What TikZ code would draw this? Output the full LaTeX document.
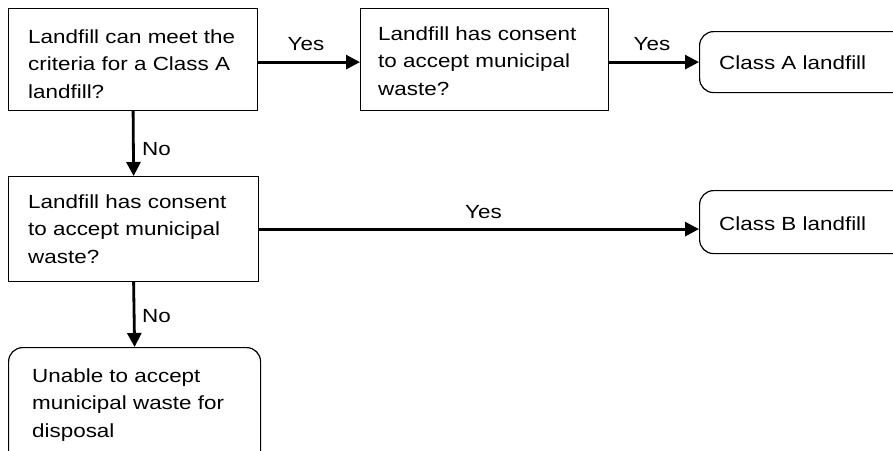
\documentclass[tikz,border=0pt]{standalone}
\usepackage{fontspec}
\setmainfont[FakeStretch=1.18]{Liberation Sans}
\usetikzlibrary{arrows.meta,calc}
\begin{document}
\begin{tikzpicture}[x=1pt,y=-1pt,
  box/.style={draw=black,line width=1.2pt,fill=white,inner sep=0pt,anchor=north west},
  rbox/.style={box,rounded corners=14pt},
  txt/.style={inner sep=0pt,align=left,font=\fontsize{19}{27.5}\selectfont},
  lbl/.style={inner sep=0pt,font=\fontsize{19}{27.5}\selectfont},
  conn/.style={line width=2.8pt,-{Triangle[length=14pt,width=14pt]}}]
\useasboundingbox (0,0) rectangle (893,450);
\clip (0,0) rectangle (893,450);
% boxes
\node[box,minimum width=249pt,minimum height=102pt] (b1) at (8,8) {};
\node[box,minimum width=248pt,minimum height=102pt] (b2) at (360,8) {};
\node[rbox,minimum width=220pt,minimum height=61pt] (cA) at (699,31) {};
\node[box,minimum width=250pt,minimum height=105pt] (b3) at (8,176) {};
\node[rbox,minimum width=220pt,minimum height=63pt] (cB) at (699,190) {};
\node[rbox,minimum width=252pt,minimum height=130pt] (un) at (8,347) {};
% texts (base anchor = baseline of the last line)
\node[txt,anchor=base west] (t1) at (28,98) {Landfill can meet the\\criteria for a Class A\\landfill?};
\node[txt,anchor=base west] (t2) at (378,95) {Landfill has consent\\to accept municipal\\waste?};
\node[txt,anchor=base west] (tA) at (719,69) {Class A landfill};
\node[txt,anchor=base west] (t3) at (28,263) {Landfill has consent\\to accept municipal\\waste?};
\node[txt,anchor=base west] (tB) at (719,230) {Class B landfill};
\node[txt,anchor=base west] (tu) at (32,437) {Unable to accept\\municipal waste for\\disposal};
% connectors
\draw[conn] ([yshift=-2.5pt]b1.east) coordinate (e1) -- (e1 -| b2.west);
\draw[conn] ([yshift=-2.5pt]b2.east) coordinate (e2) -- (e2 -| cA.west);
\draw[conn] (b1.south) -- (b3.north);
\draw[conn] ($(b3.north east)!0.5!(b3.south east)$) coordinate (e3) -- (e3 -| cB.west);
\draw[conn] (b3.south) -- (un.north);
% labels
\node[lbl,anchor=base] (y1) at (306,50) {Yes};
\node[lbl,anchor=base] (y2) at (652,50) {Yes};
\node[lbl,anchor=base west] (n1) at (142,155) {No};
\node[lbl,anchor=base] (y3) at (483.5,218) {Yes};
\node[lbl,anchor=base west] (n2) at (142,322) {No};
\end{tikzpicture}
\end{document}
